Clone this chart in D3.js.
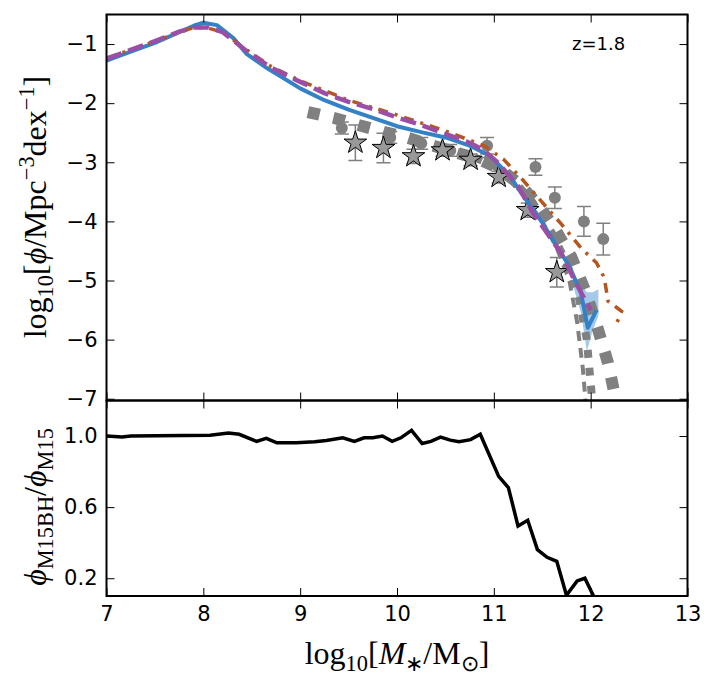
<!DOCTYPE html>
<html>
<head>
<meta charset="utf-8">
<script src="https://cdn.jsdelivr.net/npm/d3@7"></script>
<style>
  body { margin: 0; background: #fff; }
  svg { display: block; }
  .tick text { font-family: "DejaVu Sans", sans-serif; font-size: 21px; fill: #000; }
  .tick line { stroke: #000; stroke-width: 1; }
  .domain { display: none; }
</style>
</head>
<body>
<svg id="smf" width="720" height="688"></svg>
<script>
var svg = d3.select("#smf");

// ---- data ----
// log10 M*, log10 phi  (model curves)
const m15bhCurve = [[7.0,-1.28],[7.25,-1.13],[7.5,-0.98],[7.75,-0.8],[7.9,-0.69],[8.0,-0.64],[8.14,-0.68],[8.31,-0.9],[8.45,-1.17],[8.66,-1.41],[9.0,-1.75],[9.25,-1.95],[9.5,-2.11],[9.75,-2.25],[10.0,-2.39],[10.25,-2.49],[10.5,-2.58],[10.75,-2.72],[10.95,-2.88],[11.15,-3.2],[11.37,-3.72],[11.5,-4.02],[11.65,-4.42],[11.78,-4.76],[11.9,-5.21],[11.97,-5.8],[12.06,-5.5]];
const m15Curve = [[7.0,-1.25],[7.25,-1.1],[7.5,-0.95],[7.75,-0.79],[7.9,-0.72],[8.05,-0.72],[8.2,-0.8],[8.45,-1.12],[8.7,-1.4],[9.0,-1.64],[9.25,-1.83],[9.5,-1.98],[9.75,-2.1],[10.0,-2.24],[10.25,-2.37],[10.5,-2.52],[10.75,-2.67],[10.9,-2.8],[11.05,-3.02],[11.25,-3.4],[11.4,-3.85],[11.55,-4.2],[11.7,-4.55],[11.85,-5.05],[11.95,-5.35],[12.0,-5.5]];
const altCurve = [[7.0,-1.24],[7.5,-0.95],[7.9,-0.72],[8.05,-0.73],[8.2,-0.8],[8.45,-1.1],[8.7,-1.38],[9.0,-1.62],[9.5,-1.95],[10.0,-2.2],[10.5,-2.47],[10.9,-2.72],[11.1,-2.95],[11.3,-3.3],[11.5,-3.68],[11.7,-4.05],[11.9,-4.45],[12.06,-4.7],[12.14,-4.95],[12.18,-5.35],[12.32,-5.52],[12.27,-5.72]];
// shaded spread around the end of the blue curve: mass, low, high
const m15bhBand = [[11.82,-5.1,-4.95],[11.9,-5.55,-5.05],[11.96,-6.2,-5.2],[12.02,-5.85,-5.2],[12.08,-5.6,-5.15]];

// observed mass functions drawn as thick grey broken lines
const obsBig = [[9.08,-2.15],[9.35,-2.25],[9.6,-2.37],[9.85,-2.48],[10.1,-2.58],[10.35,-2.71],[10.6,-2.83],[10.85,-2.95],[11.05,-3.1],[11.25,-3.35],[11.45,-3.7],[11.62,-4.1],[11.8,-4.6],[11.95,-5.2],[12.08,-5.85],[12.18,-6.4],[12.27,-7.1]];
const obsMid = [[10.45,-2.72],[10.8,-2.92],[11.0,-3.05],[11.2,-3.3],[11.4,-3.68],[11.6,-4.2],[11.75,-4.7],[11.88,-5.3],[11.96,-6.0],[12.02,-7.1]];
const obsThin = [[10.9,-2.9],[11.1,-3.2],[11.3,-3.55],[11.5,-4.0],[11.65,-4.45],[11.78,-5.0],[11.86,-5.7],[11.92,-6.5],[11.95,-7.1]];

// grey circles: mass, log phi, error
const circleObs = [[9.43,-2.42,0.1],[9.93,-2.58,0.1],[10.25,-2.68,0.1],[10.55,-2.8,0.1],[10.93,-2.72,0.14],[11.43,-3.08,0.14],[11.63,-3.6,0.18],[11.93,-4.0,0.25],[12.13,-4.3,0.27]];
// grey stars: mass, log phi, error
const starObs = [[9.57,-2.67,0.3],[9.86,-2.76,0.25],[10.17,-2.9,0.12],[10.47,-2.8,0.1],[10.76,-2.96,0.1],[11.05,-3.25,0.1],[11.35,-3.81,0.12],[11.65,-4.86,0.25]];

// ratio phi_M15BH / phi_M15
const ratioCurve = [[7.0,1.0],[7.16,0.995],[7.25,1.0],[8.07,1.004],[8.26,1.017],[8.37,1.01],[8.55,0.97],[8.65,0.987],[8.76,0.962],[8.96,0.962],[9.15,0.968],[9.27,0.975],[9.44,0.99],[9.56,0.97],[9.66,0.99],[9.75,0.99],[9.85,1.0],[9.95,0.97],[10.04,0.99],[10.15,1.032],[10.26,0.958],[10.35,0.97],[10.45,0.994],[10.55,0.977],[10.64,0.968],[10.76,0.98],[10.86,1.01],[11.05,0.773],[11.15,0.71],[11.25,0.494],[11.35,0.526],[11.45,0.361],[11.55,0.318],[11.65,0.295],[11.75,0.104],[11.86,0.185],[11.94,0.2],[12.03,0.1],[12.1,-0.05]];

const massTicks = [7, 8, 9, 10, 11, 12, 13];
const phiTicks = [-7, -6, -5, -4, -3, -2, -1];
const ratioTicks = [0.2, 0.6, 1.0];

// ---- layout ----
const left = 106.5, right = 687.5;
const topMain = 14.5, bottomMain = 400.5, bottomRatio = 596;

var x = d3.scaleLinear().domain([7, 13]).range([left, right]);
var yMain = d3.scaleLinear().domain([-7.03, -0.5]).range([bottomMain, topMain]);
var yRatio = d3.scaleLinear().domain([0.1, 1.2]).range([bottomRatio, bottomMain]);

var defs = svg.append("defs");
defs.append("clipPath").attr("id", "clipMain").append("rect")
    .attr("x", left).attr("y", topMain).attr("width", right - left).attr("height", bottomMain - topMain);
defs.append("clipPath").attr("id", "clipRatio").append("rect")
    .attr("x", left).attr("y", bottomMain).attr("width", right - left).attr("height", bottomRatio - bottomMain);

const lineMain = d3.line().x(d => x(d[0])).y(d => yMain(d[1]));

var main = svg.append("g").attr("clip-path", "url(#clipMain)");

// light blue spread
main.append("path")
    .datum(m15bhBand)
    .attr("d", d3.area().x(d => x(d[0])).y0(d => yMain(d[1])).y1(d => yMain(d[2])))
    .style("fill", "#8fbde3")
    .style("opacity", 0.8);

// grey observational lines
main.append("path").datum(obsThin).attr("d", lineMain)
    .style("fill", "none").style("stroke", "#808080").style("stroke-width", 4)
    .style("stroke-dasharray", "10,7");
main.append("path").datum(obsMid).attr("d", lineMain)
    .style("fill", "none").style("stroke", "#808080").style("stroke-width", 8)
    .style("stroke-dasharray", "8,10");
main.append("path").datum(obsBig).attr("d", lineMain)
    .style("fill", "none").style("stroke", "#808080").style("stroke-width", 12)
    .style("stroke-dasharray", "12,14");

// error bars + circles
var errG = main.append("g").style("stroke", "#808080").style("stroke-width", 1.5);
circleObs.concat(starObs).forEach(function (d) {
    errG.append("line")
        .attr("x1", x(d[0])).attr("x2", x(d[0]))
        .attr("y1", yMain(d[1] - d[2])).attr("y2", yMain(d[1] + d[2]));
    [d[1] - d[2], d[1] + d[2]].forEach(function (v) {
        errG.append("line")
            .attr("x1", x(d[0]) - 7).attr("x2", x(d[0]) + 7)
            .attr("y1", yMain(v)).attr("y2", yMain(v));
    });
});

main.selectAll("circle.obs")
    .data(circleObs)
    .enter()
    .append("circle")
    .attr("class", "obs")
    .attr("cx", d => x(d[0]))
    .attr("cy", d => yMain(d[1]))
    .attr("r", 6)
    .style("fill", "#808080");

main.selectAll("path.star")
    .data(starObs)
    .enter()
    .append("path")
    .attr("class", "star")
    .attr("transform", d => "translate(" + x(d[0]) + "," + yMain(d[1]) + ")")
    .attr("d", d3.symbol().type(d3.symbolStar).size(160))
    .style("fill", "#999999")
    .style("stroke", "#000")
    .style("stroke-width", 1);

// model curves
main.append("path").datum(m15bhCurve).attr("d", lineMain)
    .style("fill", "none").style("stroke", "#3381c6").style("stroke-width", 4)
    .style("stroke-linejoin", "round");
main.append("path").datum(altCurve).attr("d", lineMain)
    .style("fill", "none").style("stroke", "#b5561f").style("stroke-width", 3.5)
    .style("stroke-dasharray", "10,7,3,7");
main.append("path").datum(m15Curve).attr("d", lineMain)
    .style("fill", "none").style("stroke", "#9b4ea6").style("stroke-width", 4.5)
    .style("stroke-dasharray", "16,7");

// ratio panel
var ratio = svg.append("g").attr("clip-path", "url(#clipRatio)");
ratio.append("path")
    .datum(ratioCurve)
    .attr("d", d3.line().x(d => x(d[0])).y(d => yRatio(d[1])))
    .style("fill", "none").style("stroke", "#000").style("stroke-width", 3.5)
    .style("stroke-linejoin", "miter");

// ---- axes: ticks pointing inside on all sides ----
const tk = 8;
svg.append("g").attr("transform", "translate(0," + bottomRatio + ")")
    .call(d3.axisBottom(x).tickValues(massTicks).tickSize(-tk).tickPadding(10).tickFormat(d3.format("d")));
svg.append("g").attr("transform", "translate(0," + bottomMain + ")")
    .call(d3.axisBottom(x).tickValues(massTicks).tickSize(-tk).tickFormat(""));
svg.append("g").attr("transform", "translate(0," + bottomMain + ")")
    .call(d3.axisTop(x).tickValues(massTicks).tickSize(-tk).tickFormat(""));
svg.append("g").attr("transform", "translate(0," + topMain + ")")
    .call(d3.axisTop(x).tickValues(massTicks).tickSize(-tk).tickFormat(""));

svg.append("g").attr("transform", "translate(" + left + ",0)")
    .call(d3.axisLeft(yMain).tickValues(phiTicks).tickSize(-tk).tickPadding(9)
        .tickFormat(d => "\u2212" + Math.abs(d)));
svg.append("g").attr("transform", "translate(" + right + ",0)")
    .call(d3.axisRight(yMain).tickValues(phiTicks).tickSize(-tk).tickFormat(""));
svg.append("g").attr("transform", "translate(" + left + ",0)")
    .call(d3.axisLeft(yRatio).tickValues(ratioTicks).tickSize(-tk).tickPadding(9).tickFormat(d3.format(".1f")));
svg.append("g").attr("transform", "translate(" + right + ",0)")
    .call(d3.axisRight(yRatio).tickValues(ratioTicks).tickSize(-tk).tickFormat(""));

// frames
svg.append("rect").attr("x", left).attr("y", topMain)
    .attr("width", right - left).attr("height", bottomMain - topMain)
    .style("fill", "none").style("stroke", "#000").style("stroke-width", 2);
svg.append("rect").attr("x", left).attr("y", bottomMain)
    .attr("width", right - left).attr("height", bottomRatio - bottomMain)
    .style("fill", "none").style("stroke", "#000").style("stroke-width", 2);

// redshift label
svg.append("text")
    .attr("x", 572).attr("y", 50)
    .style("font-family", "DejaVu Sans, sans-serif")
    .style("font-size", "18px")
    .text("z=1.8");

// ---- math-like axis labels ----
const addMath = (sel, parts) => {
    var shift = 0;
    parts.forEach(p => {
        var target = p.sub ? 7 : (p.sup ? -12 : 0);
        var ts = sel.append("tspan").attr("dy", target - shift).text(p.t);
        if (p.sub || p.sup) ts.style("font-size", "70%");
        if (p.it) ts.style("font-style", "italic");
        shift = target;
    });
};

const mathFont = "Liberation Serif, serif";

var yl = svg.append("text")
    .attr("transform", "translate(46,207)rotate(-90)")
    .attr("text-anchor", "middle")
    .style("font-family", mathFont).style("font-size", "32px");
addMath(yl, [{t: "log"}, {t: "10", sub: true}, {t: "["}, {t: "\u03d5", it: true}, {t: "/Mpc"},
    {t: "\u22123", sup: true}, {t: "dex"}, {t: "\u22121", sup: true}, {t: "]"}]);

var rl = svg.append("text")
    .attr("transform", "translate(46,507)rotate(-90)")
    .attr("text-anchor", "middle")
    .style("font-family", mathFont).style("font-size", "32px");
addMath(rl, [{t: "\u03d5", it: true}, {t: "M15BH", sub: true}, {t: "/"}, {t: "\u03d5", it: true}, {t: "M15", sub: true}]);

var xl = svg.append("text")
    .attr("x", 397).attr("y", 664)
    .attr("text-anchor", "middle")
    .style("font-family", mathFont).style("font-size", "32px");
addMath(xl, [{t: "log"}, {t: "10", sub: true}, {t: "["}, {t: "M", it: true}, {t: "\u2217", sub: true},
    {t: "/M"}, {t: "\u2299", sub: true}, {t: "]"}]);
</script>
</body>
</html>
